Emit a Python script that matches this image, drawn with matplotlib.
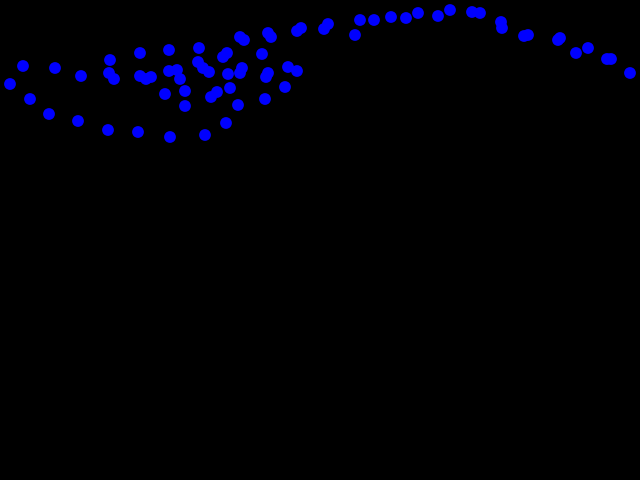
import matplotlib
matplotlib.use("Agg")
import matplotlib.pyplot as plt

# point positions (x right, y down, 640x480 frame)
xs = [10, 23, 30, 49, 55, 78, 81, 108, 110, 109, 114, 138, 140, 140, 146, 151,
      165, 169, 169, 177, 180, 170, 185, 185, 199, 198, 203, 209, 205, 211, 217,
      223, 226, 227, 228, 230, 238, 240, 242, 240, 244, 262, 265, 266, 268, 268,
      271, 285, 288, 297, 297, 301, 324, 328, 355, 360, 374, 391, 406, 418, 438,
      450, 472, 480, 501, 502, 524, 528, 558, 560, 576, 588, 607, 611, 630]
ys = [84, 66, 99, 114, 68, 121, 76, 130, 60, 73, 79, 132, 53, 76, 79, 77,
      94, 50, 71, 70, 79, 137, 91, 106, 48, 62, 68, 72, 135, 97, 92,
      57, 123, 53, 74, 88, 105, 73, 68, 37, 40, 54, 99, 77, 73, 33,
      37, 87, 67, 71, 31, 28, 29, 24, 35, 20, 20, 17, 18, 13, 16,
      10, 12, 13, 22, 28, 36, 35, 40, 38, 53, 48, 59, 59, 73]

fig = plt.figure(figsize=(6.4, 4.8), dpi=100, facecolor="black")
ax = fig.add_axes([0, 0, 1, 1])
ax.set_facecolor("black")
ax.scatter(xs, ys, s=72, c="#0000ff", edgecolors="none")
ax.set_xlim(0, 640)
ax.set_ylim(480, 0)
ax.axis("off")
fig.savefig("out.png", dpi=100, facecolor="black")
